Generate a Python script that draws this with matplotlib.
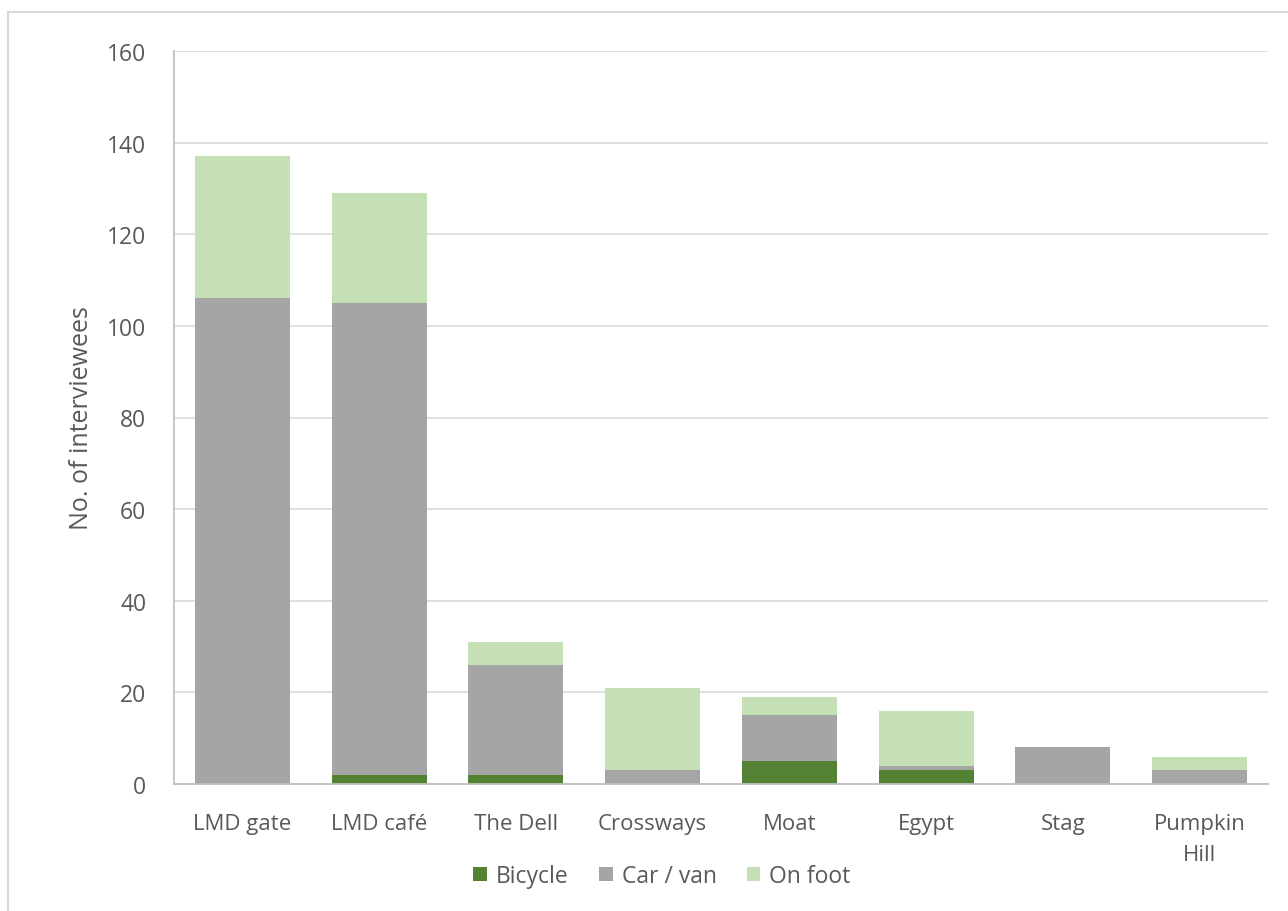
import matplotlib.pyplot as plt
import numpy as np
from matplotlib.lines import Line2D

# data
sites = ["LMD gate", "LMD café", "The Dell", "Crossways", "Moat", "Egypt", "Stag", "Pumpkin\nHill"]
bicycle = [0, 2, 2, 0, 5, 3, 0, 0]
car_van = [106, 103, 24, 3, 10, 1, 8, 3]
on_foot = [31, 24, 5, 18, 4, 12, 0, 3]

plt.rcParams['font.family'] = ['Open Sans', 'DejaVu Sans']
text_col = "#595959"

fig = plt.figure(figsize=(12.88, 9.12), dpi=100)
ax = fig.add_axes([174/1288, 127/912, 1094/1288, 733/912])

x = np.arange(len(sites))
w = 0.695
bike = np.array(bicycle)
car = np.array(car_van)
foot = np.array(on_foot)

ax.bar(x, bike, w, color="#548235", label="Bicycle", zorder=3)
ax.bar(x, car, w, bottom=bike, color="#A5A5A5", label="Car / van", zorder=3)
ax.bar(x, foot, w, bottom=bike + car, color="#C5E0B4", label="On foot", zorder=3)

ax.set_xlim(-0.5, len(sites) - 0.5)
ax.set_ylim(0, 160)
ax.set_yticks(np.arange(0, 161, 20))
ax.yaxis.grid(True, color="#D9D9D9", linewidth=1.2, zorder=0)
ax.set_xticks(x)
ax.set_xticklabels(sites, fontsize=16, color=text_col, linespacing=1.6)
ax.tick_params(axis="y", labelsize=16.5, labelcolor=text_col, length=0, pad=20)
ax.tick_params(axis="x", length=0, pad=21)

for s in ["top", "right"]:
    ax.spines[s].set_visible(False)
for s in ["left", "bottom"]:
    ax.spines[s].set_color("#BFBFBF")
    ax.spines[s].set_linewidth(1.3)
ax.spines["bottom"].set_zorder(4)

ax.set_ylabel("No. of interviewees", fontsize=18, color=text_col, labelpad=9)

fig.legend(loc="center", bbox_to_anchor=(662/1288, 35/912), ncol=3, frameon=False,
           fontsize=16.5, labelcolor=text_col, handlelength=0.6, handleheight=0.6,
           handletextpad=0.4, columnspacing=1.3)

# chart area border (left and top edges visible)
fig.add_artist(Line2D([7.5/1288, 7.5/1288], [0, 1 - 12.5/912], transform=fig.transFigure,
                      color="#D9D9D9", linewidth=1.5))
fig.add_artist(Line2D([7.5/1288, 1], [1 - 12.5/912, 1 - 12.5/912], transform=fig.transFigure,
                      color="#D9D9D9", linewidth=1.5))

fig.savefig("out.png", dpi=100)
